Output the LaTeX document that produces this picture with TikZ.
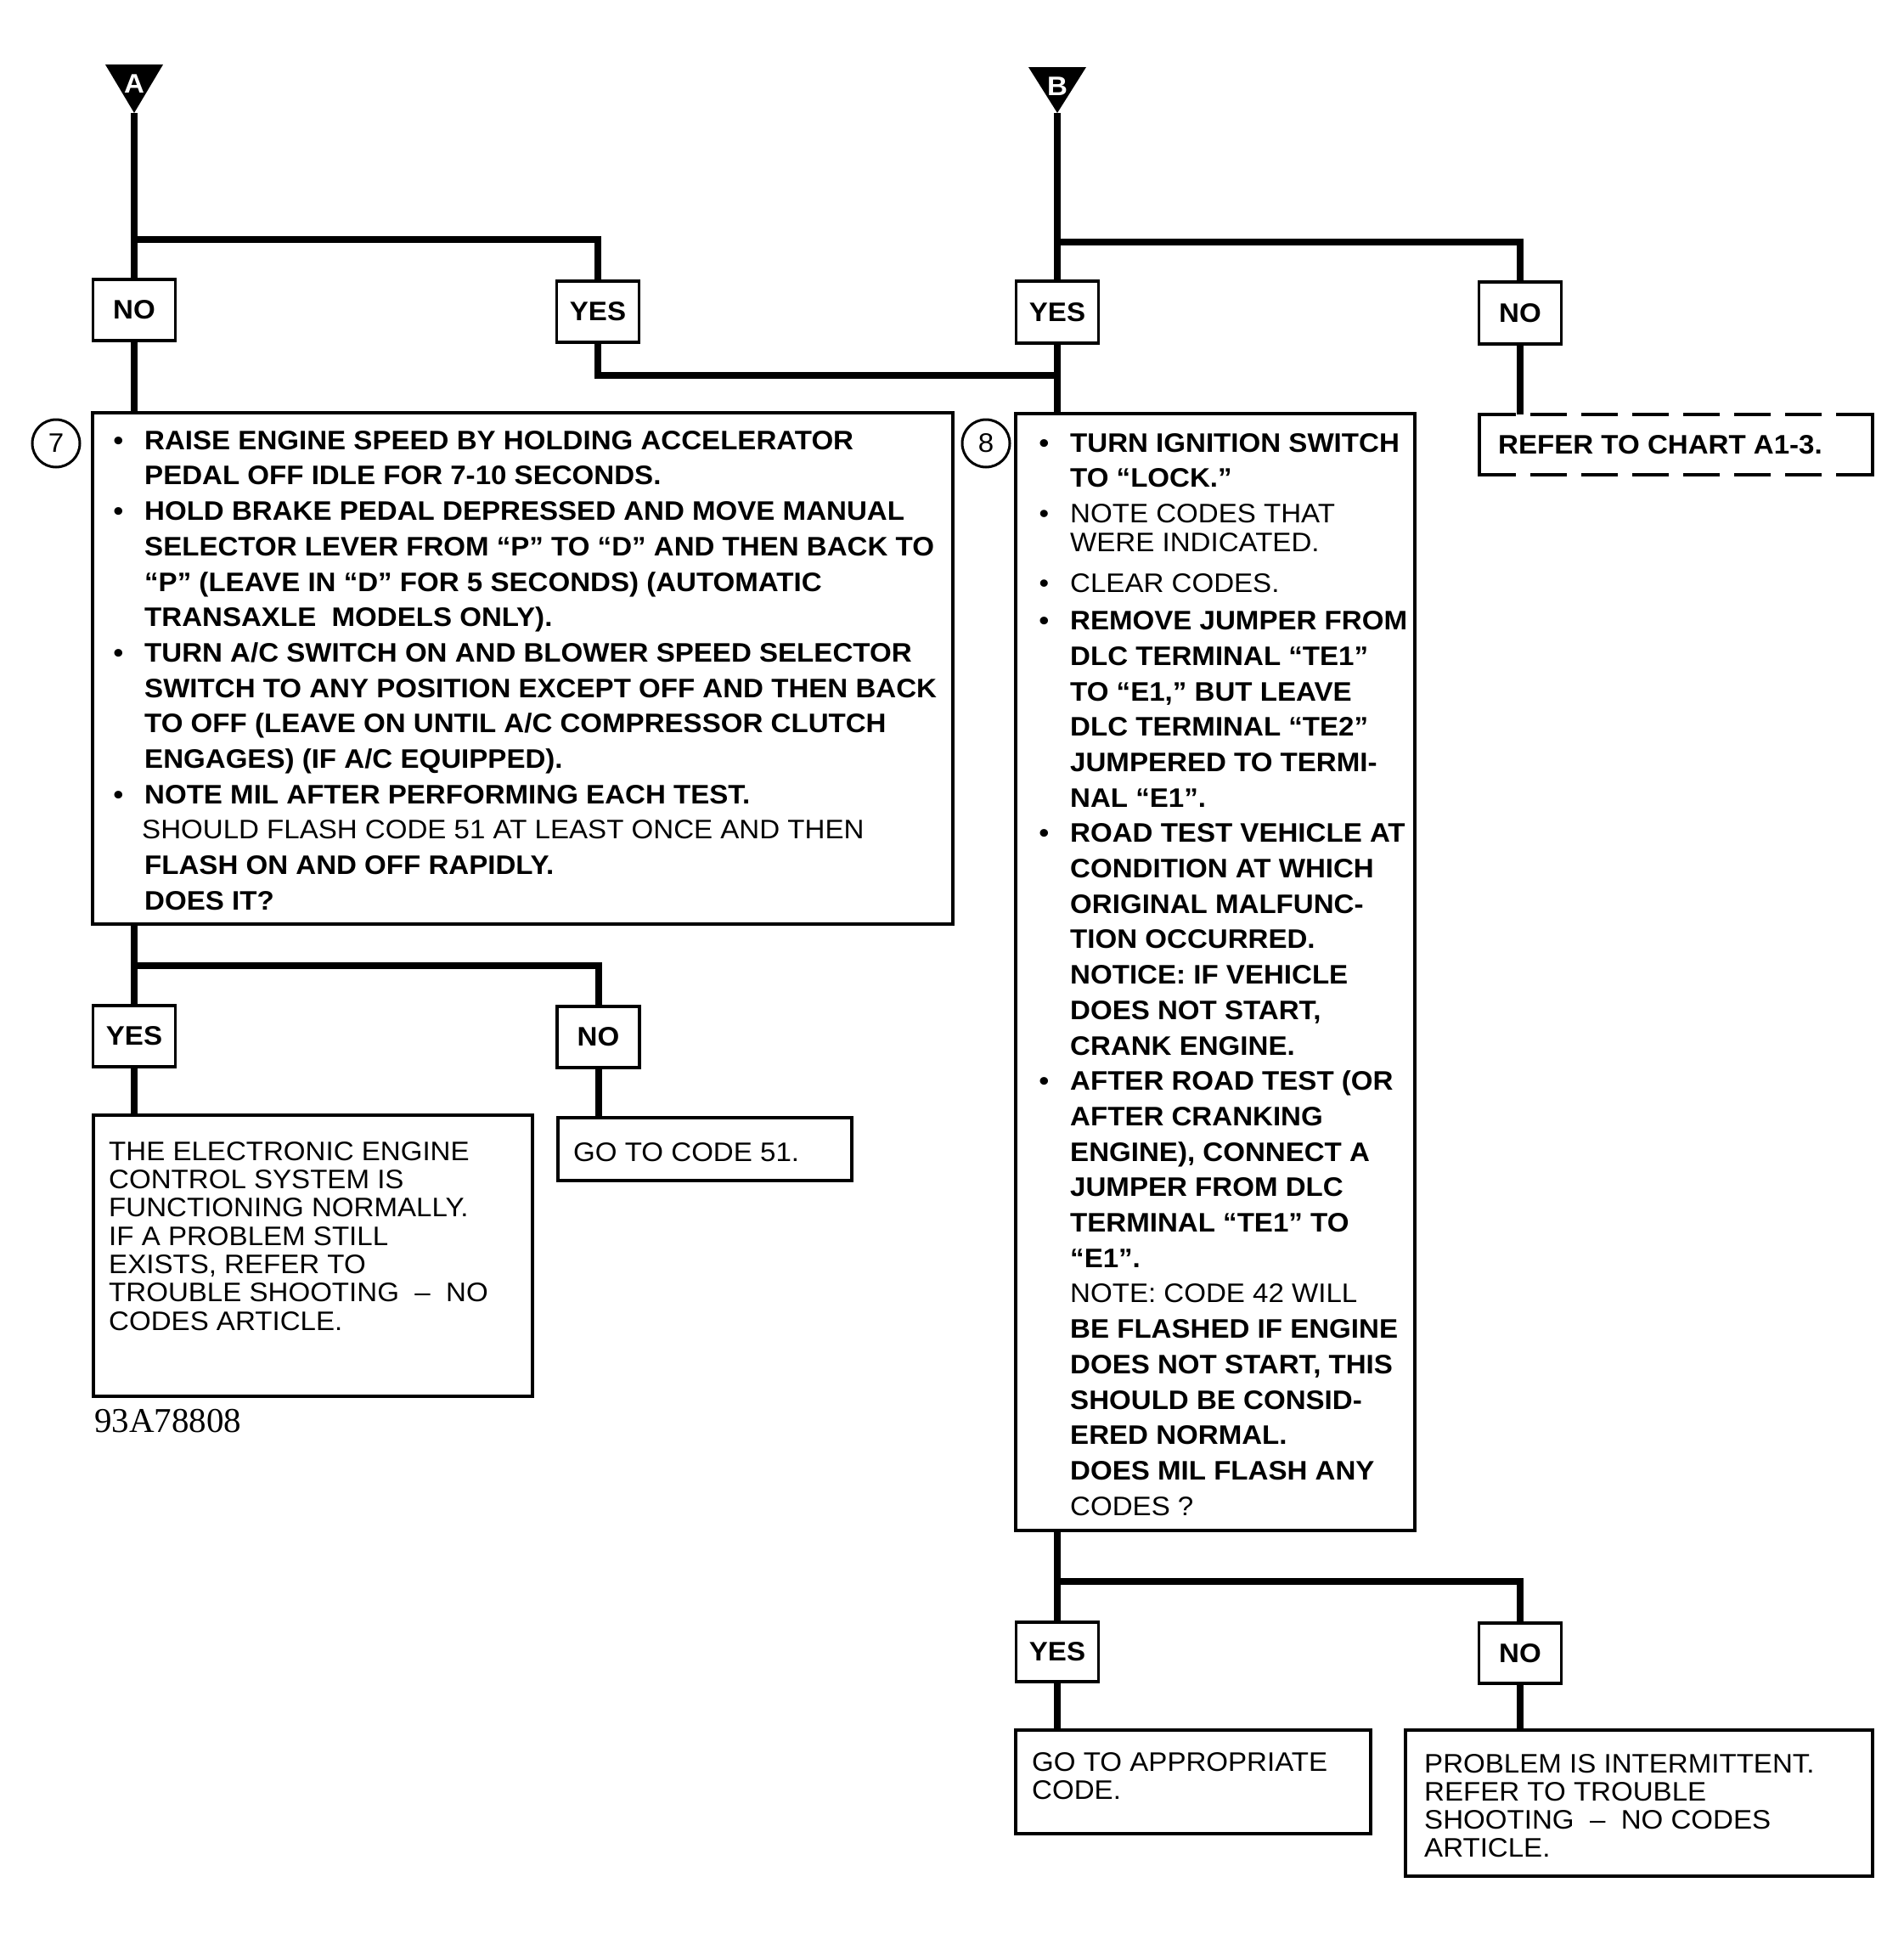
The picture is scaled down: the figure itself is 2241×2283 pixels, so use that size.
\documentclass[tikz,border=0pt]{standalone}
\usepackage{fontspec}
\setmainfont{Liberation Sans}[FakeStretch=1.05]
\newfontfamily\codefont{Liberation Serif}
\newcommand\fs{\fontsize{31.5}{37.8}\selectfont}
\newcommand\mybul{\llap{•\hspace{25pt}}}
\begin{document}
\begin{tikzpicture}[x=1pt,y=-1pt,
  conn/.style={line width=8pt},
  bx/.style={draw, line width=3.5pt, inner sep=0pt, outer sep=0pt},
  lbl/.style={bx, font=\fs\bfseries, minimum width=97pt, minimum height=72pt},
  big/.style={font=\bfseries\fontsize{31.5}{41.7}\selectfont, align=left, anchor=north west, inner sep=0pt},
  small/.style={font=\fontsize{31.5}{33.3}\selectfont, align=left, anchor=north west, inner sep=0pt},
  one/.style={anchor=base west, inner sep=0pt, font=\fs},
  circ/.style={circle, draw, line width=3pt, minimum size=56pt, inner sep=0pt, font=\fs},
  edge/.style={line width=3.5pt}
]
\useasboundingbox (0,0) rectangle (2241,2283);

% ---- entry triangles
\coordinate (tipA) at (158,133);
\coordinate (tipB) at (1245,133);
\fill (124,76) -- (192,76) -- (tipA) -- cycle;
\fill (1211,79) -- (1279,79) -- (tipB) -- cycle;
\node[text=white, font=\fs\bfseries, inner sep=0pt] (labA) at (158,99) {A};
\node[text=white, font=\fs\bfseries, inner sep=0pt] (labB) at (1245,102) {B};

% ---- top labels
\node[lbl] (no1)  at (158,365)  {NO};
\node[lbl] (yes1) at (704,367)  {YES};
\node[lbl, minimum height=73pt] (yesB) at (1245,367.5) {YES};
\node[lbl, minimum height=73pt] (noB)  at (1790,368.5) {NO};

% ---- main boxes
\node[bx, minimum width=1013pt, minimum height=602pt] (box7) at (615.5,787) {};
\node[bx, minimum width=470pt, minimum height=1315pt] (box8) at (1431,1144.5) {};
\node[inner sep=0pt, outer sep=0pt, minimum width=463pt, minimum height=71pt] (refer) at (1973.5,523.5) {};
\draw[edge, dash pattern=on 43pt off 17pt] (refer.north west) -- (refer.north east);
\draw[edge, dash pattern=on 43pt off 17pt] (refer.south west) -- (refer.south east);
\draw[edge, line cap=rect] (refer.north west) -- (refer.south west);
\draw[edge, line cap=rect] (refer.north east) -- (refer.south east);
\node[one, font=\fs\bfseries] (trefer) at (1764,534) {REFER TO CHART A1-3.};

\node[circ] (c7) at (66,522) {7};
\node[circ] (c8) at (1161,522) {8};

% ---- box 7 text
\node[big] (t7) at (170,499.8) {\strut\mybul RAISE ENGINE SPEED BY HOLDING ACCELERATOR\\
PEDAL OFF IDLE FOR 7-10 SECONDS.\\
\mybul HOLD BRAKE PEDAL DEPRESSED AND MOVE MANUAL\\
SELECTOR LEVER FROM “P” TO “D” AND THEN BACK TO\\
“P” (LEAVE IN “D” FOR 5 SECONDS) (AUTOMATIC\\
TRANSAXLE\ \ MODELS ONLY).\\
\mybul TURN A/C SWITCH ON AND BLOWER SPEED SELECTOR\\
SWITCH TO ANY POSITION EXCEPT OFF AND THEN BACK\\
TO OFF (LEAVE ON UNTIL A/C COMPRESSOR CLUTCH\\
ENGAGES) (IF A/C EQUIPPED).\\
\mybul NOTE MIL AFTER PERFORMING EACH TEST.\\
{\mdseries\hspace{-3pt}SHOULD FLASH CODE 51 AT LEAST ONCE AND THEN}\\
FLASH ON AND OFF RAPIDLY.\\
DOES IT?};

% ---- box 8 text
\node[big] (t8) at (1260,502.8) {\strut\mybul TURN IGNITION SWITCH\\
TO “LOCK.”\\
{\mdseries\mybul NOTE CODES THAT}\\[-7.7pt]
{\mdseries WERE INDICATED.}\\[6.3pt]
{\mdseries\mybul CLEAR CODES.}\\[2.3pt]
\mybul REMOVE JUMPER FROM\\
DLC TERMINAL “TE1”\\
TO “E1,” BUT LEAVE\\
DLC TERMINAL “TE2”\\
JUMPERED TO TERMI-\\
NAL “E1”.\\
\mybul ROAD TEST VEHICLE AT\\
CONDITION AT WHICH\\
ORIGINAL MALFUNC-\\
TION OCCURRED.\\
NOTICE: IF VEHICLE\\
DOES NOT START,\\
CRANK ENGINE.\\
\mybul AFTER ROAD TEST (OR\\
AFTER CRANKING\\
ENGINE), CONNECT A\\
JUMPER FROM DLC\\
TERMINAL “TE1” TO\\
“E1”.\\
{\mdseries NOTE: CODE 42 WILL}\\
BE FLASHED IF ENGINE\\
DOES NOT START, THIS\\
SHOULD BE CONSID-\\
ERED NORMAL.\\
DOES MIL FLASH ANY\\
{\mdseries CODES ?}};

% ---- lower labels
\node[lbl] (yes2) at (158,1220) {YES};
\node[lbl] (no2)  at (704.5,1221) {NO};
\node[lbl, minimum height=70pt] (yes3) at (1245,1945) {YES};
\node[lbl, minimum height=71pt] (no3)  at (1790,1946.5) {NO};

% ---- result boxes
\node[bx, minimum width=517pt, minimum height=331pt] (elec) at (368.5,1478.5) {};
\node[bx, minimum width=346pt, minimum height=74pt] (go51) at (830,1353) {};
\node[bx, minimum width=418pt, minimum height=122pt] (goapp) at (1405,2098) {};
\node[bx, minimum width=550pt, minimum height=172pt] (prob) at (1930,2123) {};

\node[small] (telec) at (128,1342.7) {\strut THE ELECTRONIC ENGINE\\
CONTROL SYSTEM IS\\
FUNCTIONING NORMALLY.\\
IF A PROBLEM STILL\\
EXISTS, REFER TO\\
TROUBLE SHOOTING\ \ –\ \ NO\\
CODES ARTICLE.};
\node[one] (tgo51) at (675,1367) {GO TO CODE 51.};
\node[small] (tgoapp) at (1215,2062) {\strut GO TO APPROPRIATE\\
CODE.};
\node[small] (tprob) at (1677,2063.5) {\strut PROBLEM IS INTERMITTENT.\\
REFER TO TROUBLE\\
SHOOTING\ \ –\ \ NO CODES\\
ARTICLE.};

\node[anchor=base west, inner sep=0pt, font=\codefont\fontsize{41}{41}\selectfont] (code) at (111,1686) {93A78808};

% ---- connectors
\coordinate (jA) at (158,282);
\coordinate (jM) at (1245,441.5);
\coordinate (jB) at (1245,285);
\coordinate (j7) at (158,1137);
\coordinate (j8) at (1245,1862);
\draw[conn] (tipA) -- (no1.north);
\draw[conn] (jA) -| (yes1.north);
\draw[conn] (no1.south) -- (no1.south |- box7.north);
\draw[conn] (yes1.south) |- (jM);
\draw[conn] (tipB) -- (yesB.north);
\draw[conn] (jB) -| (noB.north);
\draw[conn] (yesB.south) -- (yesB.south |- box8.north);
\draw[conn] (noB.south) -- (noB.south |- refer.north);
\draw[conn] (box7.south -| yes2.north) -- (yes2.north);
\draw[conn] (j7) -| (no2.north);
\draw[conn] (yes2.south) -- (yes2.south |- elec.north);
\draw[conn] (no2.south) -- (no2.south |- go51.north);
\draw[conn] (box8.south -| yes3.north) -- (yes3.north);
\draw[conn] (j8) -| (no3.north);
\draw[conn] (yes3.south) -- (yes3.south |- goapp.north);
\draw[conn] (no3.south) -- (no3.south |- prob.north);
\end{tikzpicture}
\end{document}
